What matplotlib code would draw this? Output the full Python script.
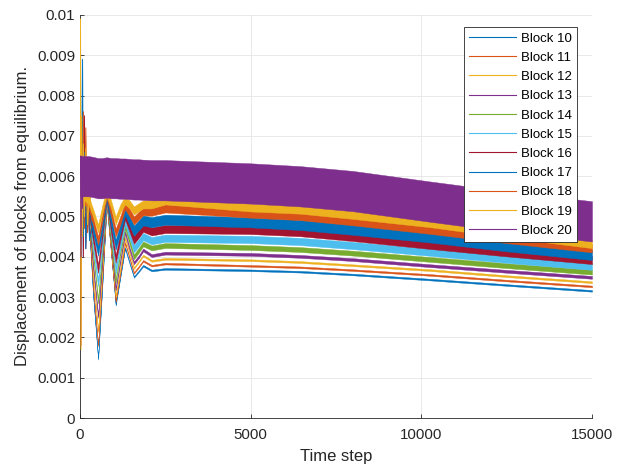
import matplotlib
matplotlib.use('Agg')
import matplotlib.pyplot as plt
import numpy as np
from matplotlib.lines import Line2D

plt.rcParams['font.family'] = ['Liberation Sans', 'DejaVu Sans']

# ---------------- data ----------------
block_labels = ['Block 10', 'Block 11', 'Block 12', 'Block 13', 'Block 14', 'Block 15',
                'Block 16', 'Block 17', 'Block 18', 'Block 19', 'Block 20']

# time steps at which the oscillation band centre was read
time_keys = [0, 120, 250, 380, 530, 660, 780, 910, 1045, 1180, 1320, 1450, 1580,
             1720, 1850, 2100, 2500, 5000, 6450, 8000, 10250, 12500, 15000]

center_10 = [0.0055, 0.0053, 0.0050, 0.0031, 0.00147, 0.0034, 0.00532, 0.0041, 0.00281, 0.0035,
             0.00422, 0.00385, 0.0035, 0.00364, 0.00378, 0.00366,
             0.0037, 0.003665, 0.00363, 0.00356, 0.003435, 0.0033, 0.003155]
center_11 = [0.0055, 0.0053, 0.0050, 0.0033, 0.0018, 0.0036, 0.00535, 0.0041, 0.0029, 0.0036,
             0.00435, 0.00397, 0.0036, 0.00375, 0.0039, 0.00378,
             0.00383, 0.003775, 0.00374, 0.00367, 0.00355, 0.00341, 0.003265]
center_12 = [0.0055, 0.0053, 0.0051, 0.0036, 0.00215, 0.0038, 0.00538, 0.0042, 0.00302, 0.0037,
             0.00447, 0.0041, 0.00372, 0.00388, 0.00403, 0.0039,
             0.00395, 0.003915, 0.00387, 0.00379, 0.00367, 0.00352, 0.00337]
center_13 = [0.0055, 0.0053, 0.0051, 0.0038, 0.00252, 0.0040, 0.0054, 0.0043, 0.0032, 0.0039,
             0.0046, 0.0042, 0.00385, 0.0040, 0.00417, 0.00403,
             0.00409, 0.00406, 0.00401, 0.00393, 0.00378, 0.00364, 0.00349]
center_14 = [0.0055, 0.0053, 0.0051, 0.0041, 0.0029, 0.0042, 0.00543, 0.0044, 0.0034, 0.0041,
             0.00474, 0.00437, 0.0040, 0.00416, 0.00432, 0.00422,
             0.00428, 0.00423, 0.00418, 0.00409, 0.003935, 0.00378, 0.00362]
center_15 = [0.0055, 0.0053, 0.0052, 0.0043, 0.00335, 0.0044, 0.00546, 0.0046, 0.00367, 0.0043,
             0.00488, 0.00454, 0.0042, 0.00435, 0.0045, 0.0044,
             0.00446, 0.00443, 0.00438, 0.00428, 0.004115, 0.00394, 0.003765]
center_16 = [0.0055, 0.0054, 0.0052, 0.0045, 0.0037, 0.0046, 0.0055, 0.0047, 0.00395, 0.0045,
             0.00503, 0.00472, 0.00442, 0.00457, 0.00472, 0.00463,
             0.00469, 0.004665, 0.00461, 0.00449, 0.004295, 0.00411, 0.00392]
center_17 = [0.0055, 0.0054, 0.0053, 0.0047, 0.00415, 0.0048, 0.00553, 0.0049, 0.0043, 0.0047,
             0.00516, 0.0049, 0.00465, 0.00478, 0.0049, 0.00486,
             0.00492, 0.004855, 0.00479, 0.00467, 0.00448, 0.00426, 0.004045]
center_18 = [0.0055, 0.0054, 0.0053, 0.0049, 0.0044, 0.0050, 0.00556, 0.0051, 0.0046, 0.0049,
             0.00528, 0.0051, 0.0049, 0.00502, 0.00513, 0.00512,
             0.0052, 0.00507, 0.00501, 0.00488, 0.00467, 0.00444, 0.00421]
center_19 = [0.0055, 0.0055, 0.0054, 0.0051, 0.0047, 0.0052, 0.0056, 0.0053, 0.0049, 0.0052,
             0.0054, 0.0053, 0.00515, 0.00523, 0.0053, 0.0053,
             0.0054, 0.005225, 0.00517, 0.00504, 0.004835, 0.00458, 0.004315]
center_20 = [0.0060, 0.0060, 0.0060, 0.00598, 0.00595, 0.00595, 0.00597, 0.00595, 0.00595,
             0.00594, 0.00594, 0.00593, 0.00592, 0.00592, 0.00591, 0.0059,
             0.0059, 0.00582, 0.00575, 0.00563, 0.00537, 0.00512, 0.00488]

# half amplitude of the fast oscillation of each block
half_amplitude = [0.00002, 0.00002, 0.000022, 0.000035, 0.00006, 0.00009, 0.0001,
                  0.000125, 0.0001, 0.0001, 0.0005]

# early chaotic spikes (first few hundred steps)
early_t = [0, 15, 30, 50, 75, 100, 130, 170, 220, 280, 350]
early_16 = [0.0055, 0.0062, 0.0070, 0.0045, 0.0062, 0.0040, 0.0075, 0.0042, 0.0060, 0.0045, 0.0047]
early_17 = [0.0055, 0.0094, 0.0060, 0.0040, 0.0089, 0.0045, 0.0066, 0.0042, 0.0058, 0.0044, 0.0047]
early_18 = [0.0055, 0.0081, 0.0018, 0.0070, 0.0045, 0.0076, 0.0047, 0.0072, 0.0046, 0.0055, 0.0049]
early_19 = [0.0055, 0.0099, 0.0017, 0.0075, 0.0045, 0.0068, 0.0050, 0.0067, 0.0048, 0.0056, 0.0051]
early_20 = [0.0060, 0.0065, 0.0040, 0.0065, 0.0052, 0.0064, 0.0055, 0.0064, 0.0055, 0.0064, 0.0056]

x_ticks = [0, 5000, 10000, 15000]
y_ticks = [0, 0.001, 0.002, 0.003, 0.004, 0.005, 0.006, 0.007, 0.008, 0.009, 0.01]
y_tick_labels = ['0', '0.001', '0.002', '0.003', '0.004', '0.005', '0.006', '0.007',
                 '0.008', '0.009', '0.01']

# ---------------- drawing ----------------
colors = ['#0072BD', '#D95319', '#EDB120', '#7E2F8E', '#77AC30', '#4DBEEE', '#A2142F',
          '#0072BD', '#D95319', '#EDB120', '#7E2F8E']
centers = [center_10, center_11, center_12, center_13, center_14, center_15,
           center_16, center_17, center_18, center_19, center_20]
early = {6: early_16, 7: early_17, 8: early_18, 9: early_19, 10: early_20}

fig = plt.figure(figsize=(6.17, 4.73), dpi=100)
ax = fig.add_axes([80 / 617, 55 / 473, 512 / 617, 403 / 473])

for i, (c, hw, col) in enumerate(zip(centers, half_amplitude, colors)):
    c = np.asarray(c)
    ax.fill_between(time_keys, c - hw, c + hw, facecolor=col, edgecolor=col,
                    linewidth=0.3, zorder=2 + i * 0.1)
    if i in early:
        ax.plot(early_t, early[i], color=col, lw=0.7, zorder=2 + i * 0.1 + 0.05)

ax.set_xlim(0, 15000)
ax.set_ylim(0, 0.01)
ax.set_xticks(x_ticks)
ax.set_xticklabels([str(v) for v in x_ticks])
ax.set_yticks(y_ticks)
ax.set_yticklabels(y_tick_labels)

for s in ['top', 'right']:
    ax.spines[s].set_visible(False)
for s in ['left', 'bottom']:
    ax.spines[s].set_color('#262626')
    ax.spines[s].set_linewidth(0.6)

ax.grid(True, color='#e5e5e5', linewidth=0.6)
ax.set_axisbelow(True)
ax.tick_params(direction='in', length=3, width=0.6, colors='#262626', labelsize=10.8,
               labelcolor='#262626')
ax.tick_params(axis='x', pad=7.5)

ax.set_xlabel('Time step', fontsize=12, color='#262626', labelpad=5)
ax.set_ylabel('Displacement of blocks from equilibrium.', fontsize=12, color='#262626',
              labelpad=5)

handles = [Line2D([0], [0], color=col, lw=0.8) for col in colors]
leg = ax.legend(handles, block_labels, loc='upper right', bbox_to_anchor=(0.971, 0.970),
                borderaxespad=0, fontsize=9.5, labelspacing=0.53, handlelength=3.56,
                handletextpad=0.38, borderpad=0.4, fancybox=False, framealpha=1,
                edgecolor='#262626')
leg.get_frame().set_linewidth(0.6)
leg.set_zorder(10)

fig.savefig('out.png', dpi=100)
